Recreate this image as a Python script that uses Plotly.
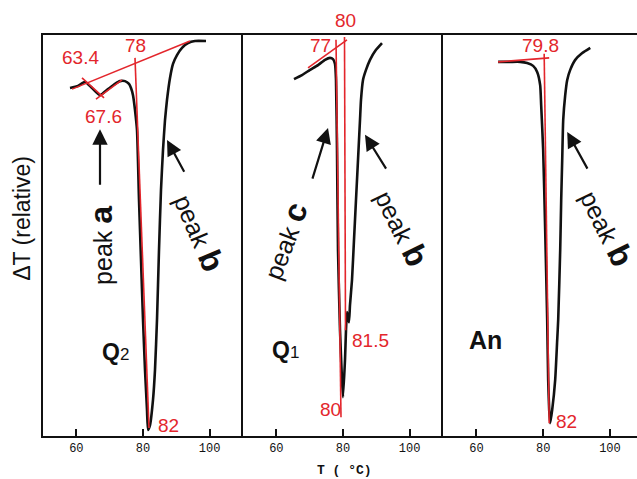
import plotly.graph_objects as go

# ---------------- data (T in °C, ΔT relative units) ----------------
q2_T = [58.1, 60.5, 62.6, 64.7, 67.1, 69.5, 71.6, 73.1, 74.6, 75.8, 76.4,
        77.0, 77.6, 78.2, 78.8, 79.4, 80.0, 80.6, 81.2, 81.5,
        82.1, 83.0, 83.6, 84.2, 84.8, 85.4, 86.0, 86.6, 87.2, 88.1,
        89.0, 90.2, 91.7, 93.5, 95.6, 98.9]
q2_dT = [86.8, 87.3, 88.3, 86.8, 85.0, 86.5, 87.8, 88.5, 88.5, 87.8, 86.8,
         85.0, 81.3, 76.3, 58.9, 43.9, 29.0, 16.5, 6.5, 1.5,
         2.7, 9.0, 16.5, 29.0, 46.4, 61.4, 71.3, 78.8, 83.8, 89.3,
         92.8, 95.0, 96.8, 98.0, 98.5, 98.5]

q1_T = [65.3, 67.7, 70.1, 72.5, 74.6, 76.1, 77.0, 77.6, 77.9, 78.2,
        78.5, 79.1, 79.7, 80.0, 80.6, 80.9, 81.2, 81.5, 81.8, 82.1,
        82.7, 83.3, 83.9, 84.5, 85.1, 85.4, 86.0, 86.9, 88.1, 89.9, 91.7]
q1_dT = [89.0, 90.0, 91.3, 92.5, 93.8, 94.3, 94.0, 92.8, 88.8, 71.3,
         46.4, 26.4, 14.0, 9.7, 19.0, 26.4, 30.9, 29.4, 28.4, 32.7,
         38.9, 48.9, 58.9, 68.8, 78.8, 83.8, 88.8, 91.3, 93.8, 96.3, 98.0]

an_T = [66.5, 70.1, 73.1, 75.2, 77.0, 78.2, 79.1, 79.4, 80.0, 80.6,
        81.2, 81.5, 81.8, 82.1, 82.7, 83.6, 84.2, 84.5, 85.1, 85.4,
        85.7, 86.0, 86.6, 87.2, 88.1, 89.6, 91.7, 94.1]
an_dT = [93.3, 93.3, 93.3, 93.0, 92.3, 90.8, 87.5, 82.5, 71.3, 51.4,
         29.0, 14.0, 6.5, 3.2, 6.5, 14.0, 23.9, 29.0, 46.4, 58.9,
         68.8, 78.8, 85.0, 88.8, 91.3, 93.8, 95.5, 96.8]

# red construction lines
q2_base_T, q2_base_dT = [58.7, 94.1], [86.5, 98.5]
q2_seg1_T, q2_seg1_dT = [61.7, 68.3], [89.3, 84.3]
q2_seg2_T, q2_seg2_dT = [65.9, 73.7], [84.0, 88.8]
q2_onset_T, q2_onset_dT = [77.6, 81.8], [94.3, 2.0]
q1_base_T, q1_base_dT = [69.5, 81.2], [91.8, 98.8]
q1_l1_T, q1_l1_dT = [77.9, 79.4], [98.8, 4.7]
q1_l2_T, q1_l2_dT = [80.45, 80.75], [99.5, 26.4]
an_base_T, an_base_dT = [66.5, 81.8], [93.3, 94.3]
an_onset_T, an_onset_dT = [80.3, 81.8], [95.3, 3.2]

# red temperature labels
q2_lbl = ["63.4", "78", "67.6", "82"]
q2_lbl_T = [61.1, 77.6, 68.0, 87.5]
q2_lbl_dT = [94.5, 97.5, 79.6, 2.7]
q1_lbl = ["77", "81.5", "80"]
q1_lbl_T = [73.1, 88.1, 76.1]
q1_lbl_dT = [97.5, 23.9, 6.5]
q1_top_lbl, q1_top_T = "80", 80.6     # label sitting above the frame
an_lbl = ["79.8", "82"]
an_lbl_T = [79.1, 86.9]
an_lbl_dT = [97.3, 3.5]

tick_vals = [60, 80, 100]
tick_text = ["60", "80", "100"]

RED = "#e3262c"
BLACK = "#111111"
RED_FONT = "Liberation Sans Narrow, Arial Narrow, Liberation Sans, Arial, sans-serif"
SANS = "Liberation Sans, Arial, sans-serif"
TICK_FONT = "Liberation Mono, DejaVu Sans Mono, monospace"

fig = go.Figure()

panels = [("x", "y", q2_T, q2_dT), ("x2", "y2", q1_T, q1_dT), ("x3", "y3", an_T, an_dT)]
for xa, ya, T, dT in panels:
    fig.add_trace(go.Scatter(x=T, y=dT, xaxis=xa, yaxis=ya, mode="lines",
                             line=dict(color=BLACK, width=2.6, shape="spline", smoothing=0.5),
                             hoverinfo="skip"))

red_lines = [
    ("x", "y", q2_base_T, q2_base_dT), ("x", "y", q2_seg1_T, q2_seg1_dT),
    ("x", "y", q2_seg2_T, q2_seg2_dT), ("x", "y", q2_onset_T, q2_onset_dT),
    ("x2", "y2", q1_base_T, q1_base_dT), ("x2", "y2", q1_l1_T, q1_l1_dT),
    ("x2", "y2", q1_l2_T, q1_l2_dT),
    ("x3", "y3", an_base_T, an_base_dT), ("x3", "y3", an_onset_T, an_onset_dT),
]
for xa, ya, T, dT in red_lines:
    fig.add_trace(go.Scatter(x=T, y=dT, xaxis=xa, yaxis=ya, mode="lines",
                             line=dict(color=RED, width=1.6), hoverinfo="skip"))

red_font = dict(family=RED_FONT, size=19, color=RED)
ann = []
for xa, ya, L, LT, LD in [("x", "y", q2_lbl, q2_lbl_T, q2_lbl_dT),
                          ("x2", "y2", q1_lbl, q1_lbl_T, q1_lbl_dT),
                          ("x3", "y3", an_lbl, an_lbl_T, an_lbl_dT)]:
    for t, xv, yv in zip(L, LT, LD):
        ann.append(dict(text=t, x=xv, y=yv, xref=xa, yref=ya, showarrow=False,
                        xanchor="center", yanchor="middle", font=red_font))
ann.append(dict(text=q1_top_lbl, x=q1_top_T, y=1.037, xref="x2", yref="paper",
                xanchor="center", yanchor="middle", showarrow=False, font=red_font))

# sample names
ann.append(dict(text="<b>Q</b><span style='font-size:17px'>2</span>", x=71.6, y=21.0,
                xref="x", yref="y", showarrow=False,
                font=dict(family=SANS, size=23, color=BLACK)))
ann.append(dict(text="<b>Q</b><span style='font-size:17px'>1</span>", x=62.6, y=21.4,
                xref="x2", yref="y2", showarrow=False,
                font=dict(family=SANS, size=23, color=BLACK)))
ann.append(dict(text="<b>An</b>", x=62.6, y=23.9, xref="x3", yref="y3", showarrow=False,
                font=dict(family=SANS, size=25, color=BLACK)))

# peak labels
peak_font = dict(family=SANS, size=25, color=BLACK)
peaks = [
    ("x", "y", "peak <b><span style='font-size:32px'>a</span></b>", 67.4, 47.4, -90),
    ("x", "y", "peak <b><span style='font-size:32px'>b</span></b>", 97.0, 50.7, 67),
    ("x2", "y2", "peak <b><span style='font-size:32px'>c</span></b>", 62.3, 48.6, -69),
    ("x2", "y2", "peak <b><span style='font-size:32px'>b</span></b>", 97.6, 51.8, 64),
    ("x3", "y3", "peak <b><span style='font-size:32px'>b</span></b>", 99.0, 51.8, 64),
]
for xa, ya, t, xv, yv, ang in peaks:
    ann.append(dict(text=t, x=xv, y=yv, xref=xa, yref=ya, showarrow=False,
                    xanchor="center", yanchor="middle", textangle=ang, font=peak_font))

arrows = [
    ("x", "y", 67.1, 76.5, 67.1, 62.3),
    ("x", "y", 87.2, 73.8, 92.6, 65.5),
    ("x2", "y2", 75.5, 76.8, 70.7, 63.8),
    ("x2", "y2", 86.6, 75.1, 93.2, 66.3),
    ("x3", "y3", 87.2, 75.8, 93.5, 66.3),
]
for xa, ya, hx, hy, tx, ty in arrows:
    ann.append(dict(text="", x=hx, y=hy, ax=tx, ay=ty, xref=xa, yref=ya,
                    axref=xa, ayref=ya, showarrow=True, arrowhead=2,
                    arrowsize=1.4, arrowwidth=2.2, arrowcolor=BLACK, standoff=0))

# axis titles
ann.append(dict(text="<b>T ( °C)</b>", x=0.508, y=-0.087, xref="paper", yref="paper",
                xanchor="center", yanchor="middle",
                showarrow=False, font=dict(family=TICK_FONT, size=13, color=BLACK)))
ann.append(dict(text="ΔT (relative)", x=-0.0354, y=0.544, xref="paper", yref="paper",
                xanchor="center", yanchor="middle",
                showarrow=False, textangle=-90, font=dict(family=SANS, size=23, color=BLACK)))

xcommon = dict(showline=True, linecolor=BLACK, linewidth=2, mirror=True,
               ticks="inside", ticklen=7, tickwidth=1.6, tickcolor=BLACK,
               tickvals=tick_vals, ticktext=tick_text, showgrid=False, zeroline=False,
               tickfont=dict(family=TICK_FONT, size=12, color=BLACK))
ycommon = dict(range=[0, 100], showline=True, linecolor=BLACK, linewidth=2,
               mirror=False, showticklabels=False, ticks="", showgrid=False, zeroline=False)

d1 = 200 / 594
d2 = 400 / 594
fig.update_layout(
    width=637, height=479,
    margin=dict(l=43, r=0, t=35, b=43, autoexpand=False),
    paper_bgcolor="white", plot_bgcolor="white",
    showlegend=False,
    xaxis=dict(domain=[0, d1], range=[50, 110], anchor="y", **xcommon),
    xaxis2=dict(domain=[d1, d2], range=[50, 110], anchor="y2", **xcommon),
    xaxis3=dict(domain=[d2, 1.0], range=[50, 108.1], anchor="y3", **xcommon),
    yaxis=dict(anchor="x", **ycommon),
    yaxis2=dict(anchor="x2", **ycommon),
    yaxis3=dict(anchor="x3", **ycommon),
    annotations=ann,
)

fig.write_html("out.html", config={"displayModeBar": False},
               post_script="document.body.style.margin='0px';document.body.style.overflow='hidden';")
